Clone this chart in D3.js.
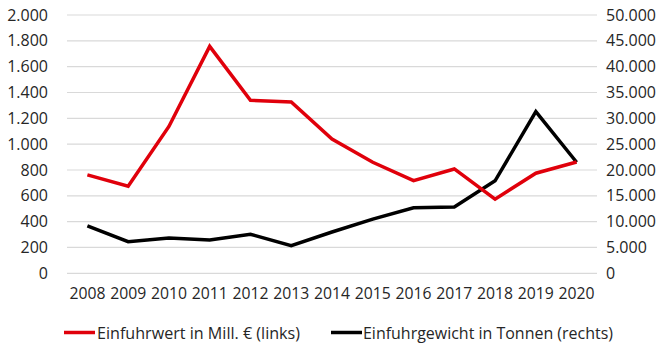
<!DOCTYPE html>
<html>
<head>
<meta charset="utf-8">
<script src="https://cdn.jsdelivr.net/npm/d3@7"></script>
<style>
  html, body { margin: 0; padding: 0; background: #fff; }
  svg { display: block; }
  text { font-family: "Open Sans", sans-serif; fill: #262626; }
</style>
</head>
<body>
<svg id="chart" width="667" height="344"></svg>
<script>
const years = ["2008","2009","2010","2011","2012","2013","2014","2015","2016","2017","2018","2019","2020"];
const valueMillEuro = [762, 675, 1137, 1757, 1340, 1326, 1039, 860, 718, 808, 574, 775, 862];
const weightTonnes = [9170, 6120, 6840, 6450, 7560, 5350, 8000, 10500, 12700, 12850, 17900, 31300, 21500];
const leftTicks = [0, 200, 400, 600, 800, 1000, 1200, 1400, 1600, 1800, 2000];
const rightTicks = [0, 5000, 10000, 15000, 20000, 25000, 30000, 35000, 40000, 45000, 50000];
const legendLabels = ["Einfuhrwert in Mill. € (links)", "Einfuhrgewicht in Tonnen (rechts)"];

const svg = d3.select("#chart");
const plotLeft = 67, plotRight = 597, plotTop = 15, plotBottom = 273.3;
const red = "#e0000b";

const x = d3.scaleBand().domain(years).range([plotLeft, plotRight]).padding(0);
const yL = d3.scaleLinear().domain([0, 2000]).range([plotBottom, plotTop]);
const yR = d3.scaleLinear().domain([0, 50000]).range([plotBottom, plotTop]);
const fmt = v => d3.format(",")(v).replace(/,/g, ".");

// gridlines
svg.append("g").selectAll("line").data(leftTicks).join("line")
  .attr("x1", plotLeft).attr("x2", plotRight)
  .attr("y1", d => yL(d)).attr("y2", d => yL(d))
  .attr("stroke", "#d9d9d9").attr("stroke-width", 1.2);

// left axis
const gL = svg.append("g").attr("transform", `translate(${plotLeft},0)`)
  .call(d3.axisLeft(yL).tickValues(leftTicks).tickFormat(fmt).tickSize(0).tickPadding(19));
gL.select(".domain").remove();
gL.selectAll("text").style("font-family", "'Open Sans', sans-serif").style("font-size", "16px").attr("fill", "#262626");

// right axis
const gR = svg.append("g").attr("transform", `translate(${plotRight},0)`)
  .call(d3.axisRight(yR).tickValues(rightTicks).tickFormat(fmt).tickSize(0).tickPadding(9));
gR.select(".domain").remove();
gR.selectAll("text").style("font-family", "'Open Sans', sans-serif").style("font-size", "16px").attr("fill", "#262626");

// x axis
const gX = svg.append("g").attr("transform", `translate(0,${plotBottom})`)
  .call(d3.axisBottom(x).tickSize(0).tickPadding(14));
gX.select(".domain").remove();
gX.selectAll("text").style("font-family", "'Open Sans', sans-serif").style("font-size", "16px").attr("fill", "#262626")
  .attr("textLength", 36).attr("lengthAdjust", "spacingAndGlyphs");

const cx = d => x(d) + x.bandwidth() / 2;

svg.append("path")
  .datum(years.map((y, i) => [y, weightTonnes[i]]))
  .attr("fill", "none").attr("stroke", "#000").attr("stroke-width", 3.5)
  .attr("stroke-linejoin", "miter")
  .attr("d", d3.line().x(d => cx(d[0])).y(d => yR(d[1])));

svg.append("path")
  .datum(years.map((y, i) => [y, valueMillEuro[i]]))
  .attr("fill", "none").attr("stroke", red).attr("stroke-width", 3.5)
  .attr("stroke-linejoin", "miter")
  .attr("d", d3.line().x(d => cx(d[0])).y(d => yL(d[1])));

// legend
const legend = [
  { label: legendLabels[0], color: red, x1: 64, x2: 95, tx: 97, tw: 203 },
  { label: legendLabels[1], color: "#000", x1: 331, x2: 362, tx: 363, tw: 250 }
];
const lg = svg.append("g");
legend.forEach(l => {
  lg.append("line").attr("x1", l.x1).attr("x2", l.x2).attr("y1", 332.5).attr("y2", 332.5)
    .attr("stroke", l.color).attr("stroke-width", 3.5);
  lg.append("text").attr("x", l.tx).attr("y", 339).text(l.label)
    .style("font-size", "16px").attr("textLength", l.tw).attr("lengthAdjust", "spacingAndGlyphs");
});
</script>
</body>
</html>
